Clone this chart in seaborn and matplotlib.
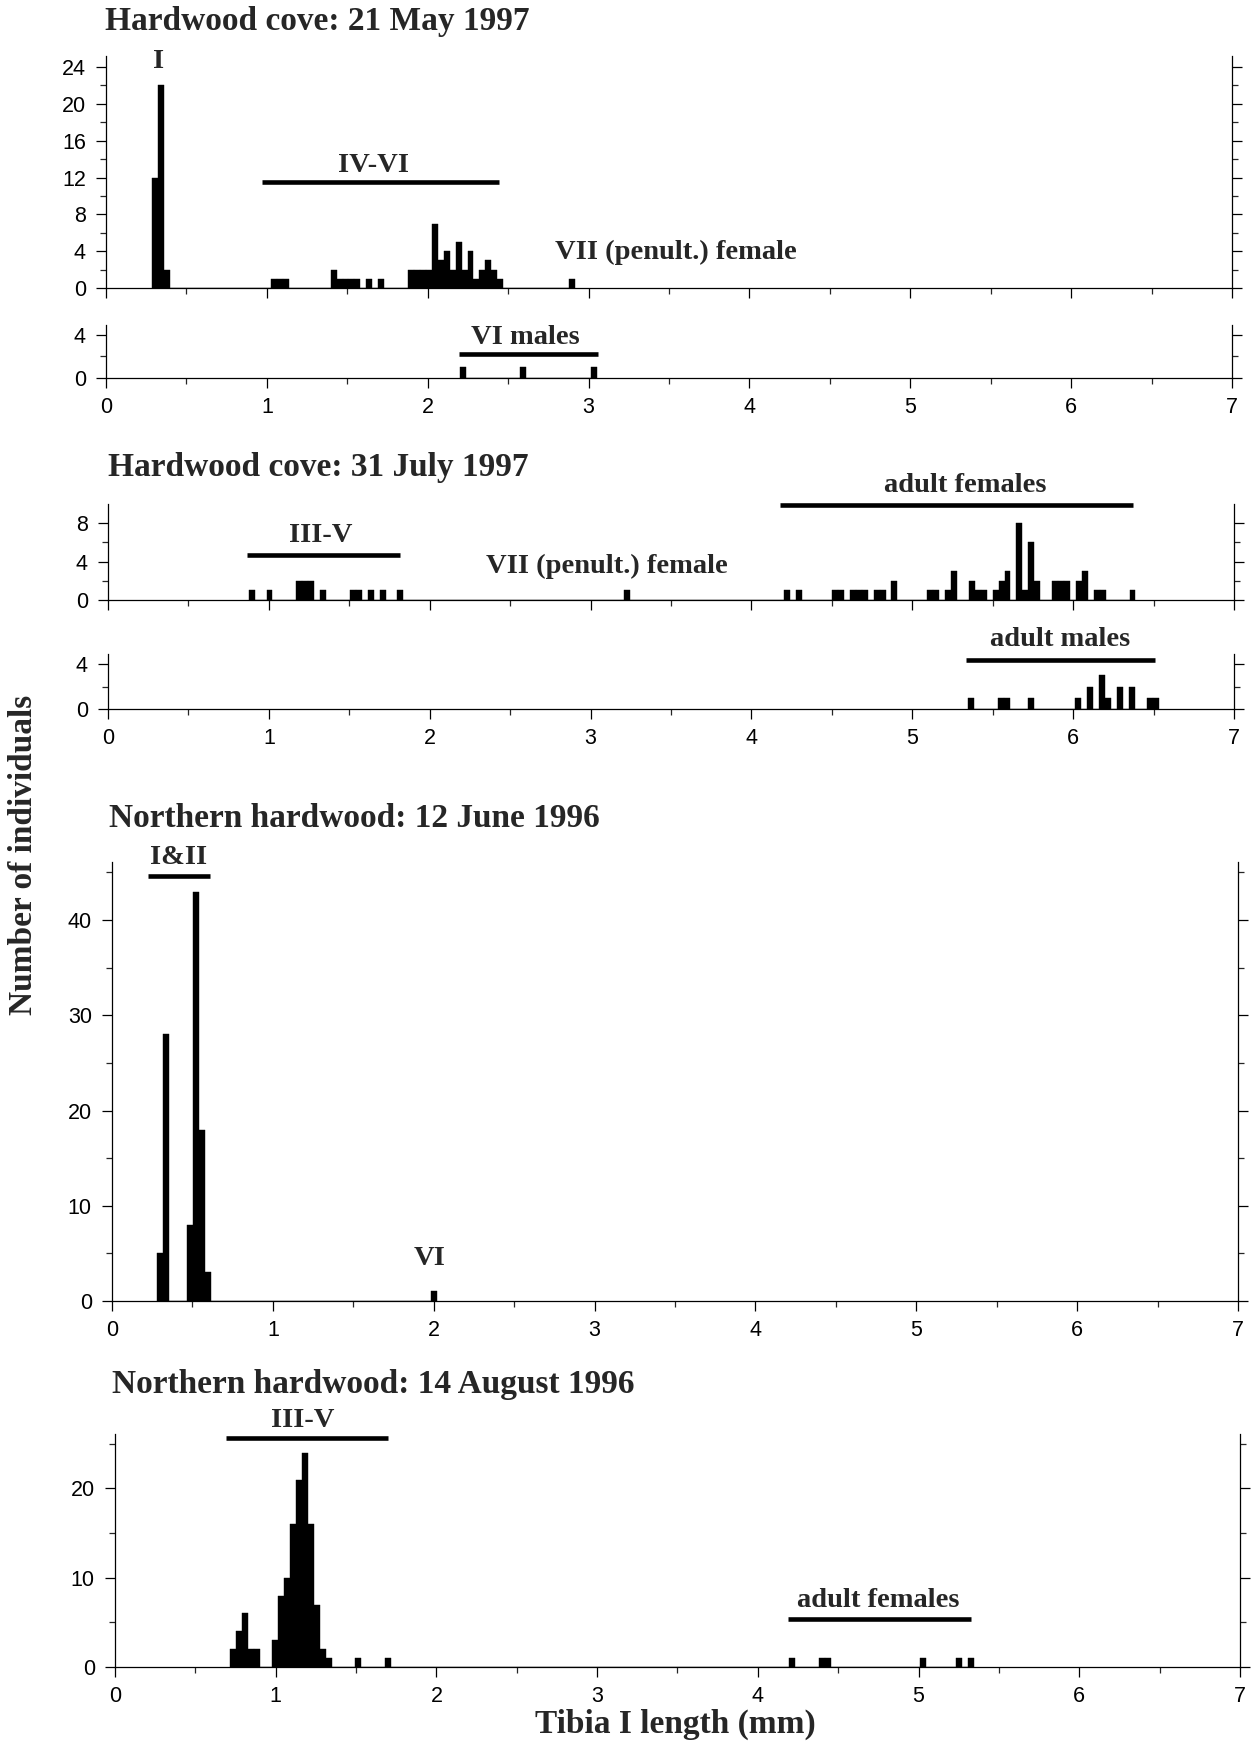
import numpy as np
import pandas as pd
import matplotlib
matplotlib.use("Agg")
import matplotlib.pyplot as plt
import seaborn as sns
from matplotlib.ticker import MultipleLocator, FixedLocator, NullFormatter

# ---------------- data (tibia I length in mm, number of individuals) ----------------
# Hardwood cove: 21 May 1997 (juveniles + penultimate female)
may97_len = [0.305, 0.342, 0.379, 1.045, 1.082, 1.119, 1.415, 1.452, 1.489, 1.526,
             1.563, 1.637, 1.711, 1.896, 1.933, 1.970, 2.007, 2.044, 2.081, 2.118,
             2.155, 2.192, 2.229, 2.266, 2.303, 2.340, 2.377, 2.414, 2.451, 2.895]
may97_n = [12, 22, 2, 1, 1, 1, 2, 1, 1, 1,
           1, 1, 1, 2, 2, 2, 2, 7, 3, 4,
           2, 5, 2, 4, 1, 2, 3, 2, 1, 1]
# Hardwood cove: 21 May 1997, VI males
may97_males_len = [2.220, 2.590, 3.034]
may97_males_n = [1, 1, 1]

# Hardwood cove: 31 July 1997 (juveniles, penultimate female, adult females)
jul97_len = [0.893, 1.004, 1.189, 1.226, 1.263, 1.337, 1.522, 1.559, 1.633, 1.707,
             1.818, 3.224, 4.220, 4.294, 4.516, 4.553, 4.627, 4.664, 4.701, 4.775,
             4.812, 4.886, 5.108, 5.145, 5.219, 5.256, 5.367, 5.404, 5.441, 5.515,
             5.552, 5.589, 5.663, 5.700, 5.737, 5.774, 5.885, 5.922, 5.959, 6.033,
             6.070, 6.144, 6.181, 6.366]
jul97_n = [1, 1, 2, 2, 2, 1, 1, 1, 1, 1,
           1, 1, 1, 1, 1, 1, 1, 1, 1, 1,
           1, 2, 1, 1, 1, 3, 2, 1, 1, 1,
           2, 3, 8, 1, 6, 2, 2, 2, 2, 2,
           3, 1, 1, 1]
# Hardwood cove: 31 July 1997, adult males
jul97_males_len = [5.366, 5.551, 5.588, 5.736, 6.032, 6.106, 6.180, 6.217, 6.291, 6.365, 6.476, 6.513]
jul97_males_n = [1, 1, 1, 1, 1, 2, 3, 1, 2, 2, 1, 1]

# Northern hardwood: 12 June 1996
jun96_len = [0.300, 0.337, 0.485, 0.522, 0.559, 0.596, 2.002]
jun96_n = [5, 28, 8, 43, 18, 3, 1]

# Northern hardwood: 14 August 1996
aug96_len = [0.737, 0.774, 0.811, 0.848, 0.885, 0.996, 1.033, 1.070, 1.107, 1.144,
             1.181, 1.218, 1.255, 1.292, 1.329, 1.514, 1.699, 4.215, 4.400, 4.437,
             5.029, 5.251, 5.325]
aug96_n = [2, 4, 6, 2, 2, 3, 8, 10, 16, 21,
           24, 16, 7, 2, 1, 1, 1, 1, 1, 1,
           1, 1, 1]

titles = ["Hardwood cove: 21 May 1997", "Hardwood cove: 31 July 1997",
          "Northern hardwood: 12 June 1996", "Northern hardwood: 14 August 1996"]
x_tick_labels = ["0", "1", "2", "3", "4", "5", "6", "7"]
x_label = "Tibia I length (mm)"
y_label = "Number of individuals"

# ---------------- style ----------------
sns.set_theme(style="ticks")
plt.rcParams['font.family'] = ['Liberation Sans', 'DejaVu Sans']
SERIF = ['Liberation Serif', 'DejaVu Serif']
BIN_W = 0.037
W, H = 1254, 1742

fig = plt.figure(figsize=(W / 100, H / 100), dpi=100)
fig.patch.set_facecolor('white')


def rect(x0, x1, ytop, ybot):
    return [x0 / W, 1 - ybot / H, (x1 - x0) / W, (ybot - ytop) / H]


def make_ax(r):
    ax = fig.add_axes(r)
    ax.set_facecolor('white')
    return ax


def style_ax(ax, ymax, major, minor, xlabels):
    ax.set_xlabel('')
    ax.set_ylabel('')
    ax.set_xlim(0, 7)
    ax.set_ylim(0, ymax)
    ax.spines['top'].set_visible(False)
    for s in ['left', 'right', 'bottom']:
        ax.spines[s].set_visible(True)
        ax.spines[s].set_linewidth(0.9)
        ax.spines[s].set_color('black')
    ax.xaxis.set_major_locator(FixedLocator(range(8)))
    ax.xaxis.set_minor_locator(MultipleLocator(0.5))
    if xlabels:
        ax.set_xticklabels(x_tick_labels)
    else:
        ax.xaxis.set_major_formatter(NullFormatter())
    ax.yaxis.set_major_locator(FixedLocator(major))
    ax.yaxis.set_minor_locator(FixedLocator(minor))
    ax.set_yticklabels([str(v) for v in major])
    ax.tick_params(axis='both', which='major', direction='out', length=7.5, width=0.9,
                   labelsize=15.5, colors='black', pad=6)
    ax.tick_params(axis='both', which='minor', direction='out', length=4, width=0.9)
    ax.tick_params(axis='y', which='both', left=True, right=True, labelright=False)
    ax.tick_params(axis='y', which='major', pad=7)
    ax.tick_params(axis='x', which='both', bottom=True, top=False)


def draw_hist(ax, vals, counts):
    df = pd.DataFrame({"len": vals, "n": counts})
    lo = min(vals) - BIN_W / 2
    nb = int(round((max(vals) - min(vals)) / BIN_W)) + 1
    sns.histplot(data=df, x="len", weights="n", binwidth=BIN_W,
                 binrange=(lo, lo + nb * BIN_W), ax=ax, color='black',
                 edgecolor='black', linewidth=0.3, alpha=1.0, stat='count')


def label_bar(ax, text, xc, yt, x0, x1, yb, size=20.5):
    ax.plot([x0, x1], [yb, yb], color='black', lw=3.3, solid_capstyle='butt', clip_on=False)
    ax.text(xc, yt, text, ha='center', va='baseline', fontsize=size,
            family=SERIF, fontweight='bold', clip_on=False)


def note(ax, text, xc, yt, size=20.5):
    ax.text(xc, yt, text, ha='center', va='baseline', fontsize=size,
            family=SERIF, fontweight='bold', clip_on=False)


# ---- Panel 1 ----
a1 = make_ax(rect(106, 1232, 56, 288))
draw_hist(a1, may97_len, may97_n)
style_ax(a1, 25.2, [0, 4, 8, 12, 16, 20, 24], [2, 6, 10, 14, 18, 22], False)
note(a1, "I", 0.325, 23.9)
label_bar(a1, "IV-VI", 1.66, 12.6, 0.967, 2.446, 11.55)
note(a1, "VII (penult.) female", 3.54, 3.1)

a1b = make_ax(rect(106, 1232, 325, 378))
draw_hist(a1b, may97_males_len, may97_males_n)
style_ax(a1b, 4.92, [0, 4], [2], True)
label_bar(a1b, "VI males", 2.61, 3.2, 2.193, 3.058, 2.2)

# ---- Panel 2 ----
a2 = make_ax(rect(108, 1234, 504, 600))
draw_hist(a2, jul97_len, jul97_n)
style_ax(a2, 10, [0, 4, 8], [2, 6], False)
label_bar(a2, "III-V", 1.32, 6.0, 0.863, 1.816, 4.65)
note(a2, "VII (penult.) female", 3.10, 2.8)
label_bar(a2, "adult females", 5.33, 11.3, 4.176, 6.375, 9.9)

a2b = make_ax(rect(108, 1234, 654, 709))
draw_hist(a2b, jul97_males_len, jul97_males_n)
style_ax(a2b, 4.9, [0, 4], [2], True)
label_bar(a2b, "adult males", 5.92, 5.6, 5.335, 6.511, 4.4)

# ---- Panel 3 ----
a3 = make_ax(rect(112, 1238, 862, 1301))
draw_hist(a3, jun96_len, jun96_n)
style_ax(a3, 46.1, [0, 10, 20, 30, 40], [5, 15, 25, 35, 45], True)
label_bar(a3, "I&II", 0.416, 45.9, 0.222, 0.607, 44.6)
note(a3, "VI", 1.975, 3.75)

# ---- Panel 4 ----
a4 = make_ax(rect(115, 1240, 1434, 1667))
draw_hist(a4, aug96_len, aug96_n)
style_ax(a4, 26.1, [0, 10, 20], [5, 15, 25], True)
label_bar(a4, "III-V", 1.168, 26.9, 0.693, 1.697, 25.7)
label_bar(a4, "adult females", 4.75, 6.7, 4.186, 5.327, 5.4)

# ---- titles and axis labels ----
for (t, x, y) in zip(titles, [105, 108, 109, 112], [30, 476, 827, 1393]):
    fig.text(x / W, 1 - y / H, t, ha='left', va='baseline', fontsize=24,
             family=SERIF, fontweight='bold')

fig.text(675 / W, 1 - 1733 / H, x_label, ha='center', va='baseline', fontsize=24,
         family=SERIF, fontweight='bold')
fig.text(24 / W, 1 - 855 / H, y_label, ha='center', va='center', rotation=90,
         fontsize=24, family=SERIF, fontweight='bold')

fig.savefig("out.png", dpi=100, facecolor='white')
